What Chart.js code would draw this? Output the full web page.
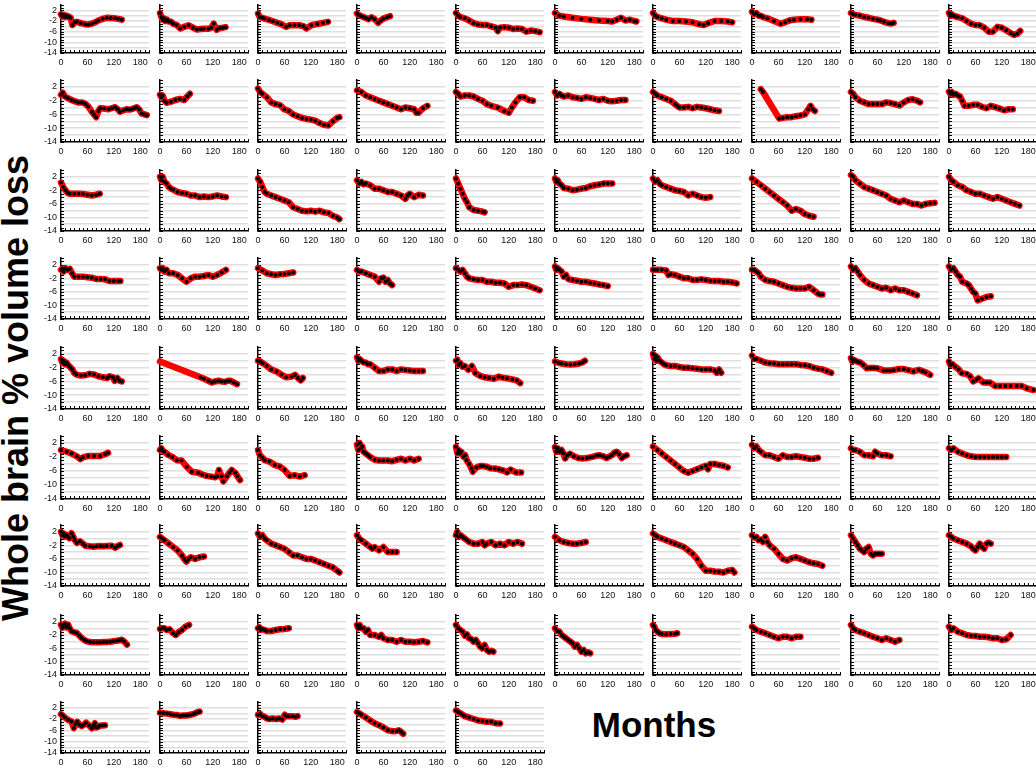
<!DOCTYPE html>
<html>
<head>
<meta charset="utf-8">
<script src="https://cdn.jsdelivr.net/npm/chart.js@4.4.1/dist/chart.umd.min.js"></script>
<style>
  html, body { margin: 0; padding: 0; background: #fff; overflow: hidden; }
  #board { position: relative; width: 1036px; height: 769px; }
  #board canvas { position: absolute; }
  .title { position: absolute; font-family: Arial, "Liberation Sans", sans-serif; font-weight: bold; color: #000; white-space: nowrap; text-align: center; }
  #ytitle { left: -234px; top: 370px; width: 500px; height: 36px; font-size: 36px; line-height: 36px; transform: rotate(-90deg); }
  #xtitle { left: 554px; top: 707px; width: 200px; font-size: 35px; line-height: 35px; }
</style>
</head>
<body>
<div id="board">
  <div class="title" id="ytitle">Whole brain % volume loss</div>
  <div class="title" id="xtitle">Months</div>
</div>
<script>
// --- data -------------------------------------------------------------
const xTickLabels = [0, 60, 120, 180];
const yTickLabels = [2, -2, -6, -10, -14];
const panelsPerRow = [10, 10, 10, 10, 10, 10, 10, 10, 5];
// panels whose first value has no scan marker (line only)
const noScanAtStart = [41];

// months of each scan, one list per subject (row by row)
const scanMonths = [
  [0,3,6,9,12,15,18,22,26,31,36,45,55,62,70,78,85,95,104,113,123,130,138],
  [0,3,6,9,12,16,20,25,30,38,46,55,65,75,84,92,99,110,117,122,129,136,143,149],
  [0,4,10,15,25,34,44,53,64,72,83,94,103,110,121,135,148,159],
  [0,5,10,15,20,26,33,40,48,54,60,68,75],
  [0,5,10,20,30,40,50,60,70,80,90,95,100,110,120,130,140,150,160,170,180,190],
  [0,10,20,40,60,80,100,120,130,140,150,160,170,180,185],
  [0,5,10,20,30,45,60,75,90,105,115,125,140,155,170,180],
  [0,5,10,15,20,25,35,50,65,75,85,95,110,125,135],
  [0,5,10,20,30,40,50,60,67,75,85,92,97],
  [0,3,6,10,15,20,30,40,50,60,70,80,90,100,110,120,130,140,148,155,162],

  [0,4,9,16,24,32,39,45,50,56,62,70,75,80,85,89,98,108,115,123,129,134,142,149,155,160,166,172,178,183,190,195],
  [0,3,6,10,15,25,35,45,55,62,68],
  [0,5,10,20,30,40,50,60,70,80,90,100,110,120,130,140,150,160,170,180,185],
  [0,10,20,30,40,50,60,70,80,90,100,110,120,130,135,140,150,160],
  [0,5,10,20,30,40,50,60,70,80,95,110,120,127,135,145,155,165,175],
  [0,5,10,15,20,30,40,50,60,70,80,90,100,110,120,130,140,150,160],
  [0,5,10,20,30,40,50,55,60,70,80,90,100,110,120,130,140,150],
  [20,25,62,70,80,90,100,110,120,128,133,138,143],
  [0,5,10,20,30,40,50,60,70,80,90,100,110,120,130,140,150,157],
  [0,3,6,10,15,20,25,30,35,45,55,65,75,85,95,105,115,125,135,145],

  [0,5,10,15,20,30,40,50,60,70,80,88],
  [0,3,6,10,15,20,25,30,40,50,60,70,80,90,100,110,120,130,140,150],
  [0,5,10,15,20,30,40,50,60,70,80,90,100,110,120,130,140,150,160,170,180,185],
  [0,5,10,15,20,30,40,50,60,70,80,90,100,110,115,120,130,140,150],
  [0,5,10,15,20,25,30,40,50,60,65],
  [0,3,6,10,15,20,30,40,50,60,70,80,90,100,110,120,130],
  [0,5,10,15,20,30,40,50,60,70,80,90,100,110,120,130],
  [0,10,20,30,40,50,60,70,80,90,100,110,120,130,140],
  [0,5,10,20,30,40,50,60,70,80,90,100,110,120,130,140,150,160,170,180,190],
  [0,5,10,20,30,40,50,60,70,80,90,100,110,120,130,140,150,160],

  [0,3,6,10,15,20,25,30,40,50,60,70,80,90,100,110,120,130,135],
  [0,3,6,10,15,20,30,40,50,60,70,80,90,100,110,120,130,140,150],
  [0,10,20,30,40,50,60,70,80],
  [0,5,10,20,30,40,50,55,60,65,70,75,80],
  [0,5,10,15,20,25,30,40,50,60,70,80,90,100,110,120,130,140,150,160,170,180,190],
  [0,3,6,10,15,20,25,30,40,50,60,70,80,90,100,110,120],
  [0,5,10,20,30,35,40,50,60,70,80,90,100,110,120,130,140,150,160,170,180,190],
  [0,5,10,15,20,30,40,50,60,70,80,90,100,110,120,130,140,150,155,160],
  [0,5,10,15,20,30,40,50,60,70,80,90,100,110,120,130,140,150],
  [0,5,10,15,20,25,30,40,45,50,55,60,65,75,85,95],

  [0,3,6,9,12,15,18,22,26,30,35,45,55,65,75,85,95,105,110,118,122,128,133,138],
  [0,92,100,110,118,125,133,140,148,155,160,168,175],
  [0,5,11,20,30,42,53,64,76,84,91,97,102],
  [0,3,6,10,15,20,25,30,40,50,60,70,80,90,100,110,120,130,140,150],
  [0,3,6,10,15,20,28,36,44,55,65,75,86,97,106,116,128,138,146],
  [0,8,15,25,35,45,55,62,68],
  [0,3,5,8,10,15,20,25,30,40,50,60,70,80,90,100,110,120,130,140,145,150,155],
  [0,5,10,20,30,40,50,60,70,80,90,100,110,120,130,140,150,160,170,180],
  [0,3,6,10,15,21,28,36,44,52,60,74,82,89,97,108,120,130,142,154,162,169,180],
  [0,3,8,14,22,29,40,48,55,62,67,78,86,93,105,116,128,140,154,165,177,192],

  [0,13,24,36,44,50,62,75,89,100,107],
  [0,3,6,10,19,28,38,49,61,72,87,96,106,116,125,130,134,140,144,152,158,163,171,176,182],
  [0,4,10,15,26,38,49,60,72,83,95,106],
  [0,3,6,9,12,15,20,25,30,40,50,60,70,80,90,100,110,120,130,140],
  [0,3,6,9,12,17,21,24,30,35,38,46,55,62,70,78,88,97,106,116,124,136,148],
  [0,3,6,10,15,19,23,28,34,43,53,62,72,80,87,95,102,110,117,123,129,135,140,146,152,157,163],
  [0,10,20,30,40,50,60,70,80,90,100,110,120,125,130,140,150,160,170],
  [0,5,10,15,20,30,40,50,60,70,80,90,100,110,120,130,140,150],
  [0,5,10,20,30,40,50,55,60,70,80,90],
  [0,5,10,20,30,40,50,60,70,80,90,100,110,120,130],

  [0,3,6,9,13,16,19,24,28,31,36,43,50,55,66,73,81,89,96,104,115,123,129,134],
  [0,5,10,20,30,40,50,55,60,65,70,80,90,100],
  [0,5,10,15,20,30,40,50,60,70,80,90,100,110,120,130,140,150,160,170,180,185],
  [0,5,10,20,30,35,40,50,60,70,80,90],
  [0,3,6,10,15,20,25,30,40,50,60,65,70,80,90,100,110,120,130,140,150],
  [0,10,20,30,40,50,60,70],
  [0,5,10,20,30,40,50,60,70,80,90,100,110,120,130,140,150,160,170,180,185],
  [0,5,10,15,20,25,30,35,40,50,60,70,80,90,100,110,120,130,140,150,160],
  [0,5,10,15,20,25,30,35,40,45,50,55,60,65,70],
  [0,5,10,20,30,40,50,55,60,65,70,75,80,85,90,95],

  [0,3,6,9,12,16,20,24,30,36,42,47,53,59,66,74,82,89,97,104,112,119,127,133,138,144,150],
  [0,5,10,15,22,30,36,42,50,58,66],
  [0,3,6,10,15,20,30,40,50,60,70],
  [0,3,6,10,15,20,25,30,40,50,55,60,70,80,90,100,110,120,130,140,150,160],
  [0,5,10,15,20,25,30,35,40,45,50,55,60,65,70,75,80,85],
  [0,5,10,15,20,25,30,35,40,45,50,55,60,65,70,75,80],
  [0,3,6,10,15,20,30,40,50,55],
  [0,5,10,20,30,40,50,60,70,80,90,100,110],
  [0,5,10,20,30,40,50,60,70,80,90,100,110],
  [0,5,10,20,30,40,50,60,70,80,90,100,110,120,130,140],

  [0,4,9,16,24,29,33,37,42,47,52,57,64,70,74,77,80,84,88,94,100],
  [0,8,16,24,31,38,46,52,57,63,69,75,80,85,90],
  [0,5,10,15,20,26,33,41,48,55,61,65,70,78,85,90],
  [0,5,10,20,30,40,50,60,70,80,90,95,100,105],
  [0,5,10,15,20,30,40,50,60,70,80,90,100]
];

// whole brain % volume change at each scan
const volumeLoss = [
  [0.5,-0.3,0.3,-0.5,0,-0.5,-0.3,-0.8,-3.5,-2.5,-2.3,-2.8,-3.2,-3.3,-3,-2.5,-1.8,-1.2,-0.8,-0.9,-1,-1.2,-1.5],
  [1,-0.5,-1.5,-1,-2,-1.5,-2.2,-2.3,-3,-3.5,-4.8,-4.2,-3.6,-4.5,-5.2,-5,-4.9,-4.9,-4.5,-3,-5.3,-4.6,-4.5,-4.3],
  [0.8,-0.5,-0.8,-1.1,-1.6,-2.1,-2.7,-3.2,-4.2,-3.6,-3.6,-3.6,-3.9,-4.8,-3.6,-3.1,-2.7,-2.3],
  [0.8,0.2,-0.2,-0.5,-0.9,-1.3,-0.6,-1.3,-2.7,-1.8,-1.1,-0.6,-0.2],
  [1,0,-0.5,-1,-1.8,-2.8,-3.3,-3.5,-3.5,-4,-4.5,-5.8,-4.5,-4.3,-4.5,-5,-4.8,-5,-6,-5.6,-5.8,-6.2],
  [1,0,-0.3,-0.8,-1.2,-1.5,-1.8,-2,-2.2,-1.5,-0.8,-1.8,-1.5,-2,-2.2],
  [1,0,-0.5,-1,-1.5,-2,-2,-2.2,-2.5,-3.2,-3.5,-2.8,-2,-2,-2.2,-2.5],
  [1.5,0.5,1,0,0,-0.5,-1,-2,-3,-2.5,-1.8,-1.5,-1.3,-1.3,-1.5],
  [1,0.5,0.3,0,-0.5,-0.8,-1.2,-1.5,-1.8,-2.3,-2.8,-2.9,-2.7],
  [1,0,0.5,0,-0.3,-0.5,-1,-2,-3,-3.5,-3.6,-4.5,-6,-6,-4.2,-4.5,-5.5,-6.5,-7.2,-6.8,-5.7],

  [-0.3,0.3,-0.8,-1.3,-1.8,-2.2,-2.5,-2.5,-2.6,-3,-3.7,-5.2,-6,-6.8,-5,-4.2,-4.3,-4.5,-4.2,-3.9,-4.5,-5.2,-4.8,-4.5,-4.6,-4.5,-4.2,-3.9,-4.6,-5.7,-6,-6.2],
  [-0.3,-1,-0.5,-2,-2.6,-2.3,-1.8,-1.5,-1.8,-0.8,0],
  [1.5,0.5,0,-1,-2.5,-3,-3.3,-4.5,-5,-6,-6.5,-7,-7.3,-7.5,-7.8,-8.5,-9,-9.2,-8,-7,-6.8],
  [1,0.5,-0.5,-1,-1.5,-2,-2.5,-3,-3.5,-4,-4.5,-4,-4.2,-4.5,-5.5,-5.5,-4.2,-3.5],
  [0.5,0,-0.8,-0.5,-0.5,-0.8,-1.5,-2,-3,-3.5,-4,-5,-5.5,-4,-2.5,-1,-1,-1.8,-2],
  [0.5,-0.5,0,-0.5,-0.8,-0.5,-1,-1.2,-1.5,-1,-1.2,-1.5,-1.8,-1.5,-2,-2.2,-2,-1.8,-1.8],
  [0.5,0,-0.5,-1,-1.5,-2,-3,-3.5,-4,-4,-3.8,-4.2,-3.8,-4,-4.2,-4.5,-4.8,-5],
  [1.3,0.5,-7.2,-7,-6.8,-6.8,-6.5,-6.3,-6,-4.5,-3.5,-4.5,-5],
  [0.5,0,-1,-2,-2.5,-3,-3,-3,-3,-2.5,-2.7,-3,-3.4,-2.5,-1.8,-1.6,-2,-2.5],
  [0.6,0,0.5,-0.3,0,-0.5,-0.8,-2,-3.5,-3.5,-3.2,-3.2,-3.8,-4.2,-3.5,-3.9,-4.3,-4.8,-4.5,-4.5],

  [0.3,-1,-2,-2.7,-3,-3,-3,-3.1,-3.3,-3.5,-3.3,-3],
  [2,1,2,0.5,0,-1,-1.5,-1.8,-2.5,-2.8,-3,-3.5,-3.5,-4,-3.8,-4,-3.8,-3.5,-3.8,-4],
  [1.5,0.5,-1,-2.5,-3,-3.5,-4,-4.5,-5,-5.5,-7,-7.5,-8,-8.2,-8,-8.3,-8,-8.5,-8.7,-9.5,-10,-10.5],
  [1,0,0.5,-0.2,0,-0.5,-1.5,-1.5,-2,-2.5,-2.5,-3,-3.5,-4.5,-3.5,-3,-4,-3.3,-3.5],
  [1.5,0,-1.5,-3,-4.5,-5.5,-7,-7.8,-8,-8.3,-8.5],
  [1.5,0.5,1,0,-0.5,-1.3,-1.5,-2,-1.8,-1.5,-1.3,-0.8,-0.5,-0.3,0,0,0],
  [1.5,0.5,1,0,-0.5,-1,-1.5,-2,-2.2,-2.5,-3.5,-3,-3.5,-4,-4.2,-4],
  [1.5,0.5,-0.5,-1.5,-2.5,-3.5,-4.5,-5.5,-6.5,-8,-7.5,-8,-9,-9.5,-9.8],
  [2.5,2,1,0,-1,-1.5,-2,-2.5,-3,-3.5,-4.5,-5,-5.5,-5,-5.5,-6,-6,-6.5,-6,-5.8,-5.7],
  [2,1,0.5,-0.5,-1,-2,-2.5,-3,-3,-3.5,-4,-4.5,-4,-4.5,-5,-5.5,-6,-6.5],

  [0.5,0.8,0,1,0.5,0.8,-0.5,-1.5,-1.5,-1.5,-1.7,-1.8,-2.2,-2.2,-2.3,-2.8,-2.8,-2.8,-2.8],
  [1,0.5,1,0,0.5,-0.5,-0.5,-1,-2,-3,-2,-1.5,-1.5,-1.3,-1,-1.5,-1,-0.3,0.5],
  [1,0.3,-0.5,-0.8,-1,-0.8,-0.7,-0.5,-0.3],
  [0.5,0,0,-0.5,-1,-1.5,-3,-2,-1.8,-3,-2.5,-3.5,-4],
  [1,0.5,0,0.5,-0.5,-1.5,-2,-2.3,-2.5,-2.5,-3,-3,-3.3,-3.3,-3.5,-4.5,-4,-4,-3.8,-4,-4.5,-5,-5.5],
  [1.5,0.5,1,0.5,0,-1.5,-1,-2.2,-2.5,-2.7,-3,-3,-3.3,-3.5,-3.8,-4,-4.3],
  [0.5,0.5,0.5,0.5,0.3,-1,-0.8,-1,-1.5,-2,-2,-2.5,-2.5,-2.3,-2.5,-2.7,-2.8,-2.8,-3,-3,-3.2,-3.5],
  [0.5,0.5,0,-0.5,-1.5,-2.5,-2.8,-3,-3.5,-4,-4.5,-4.8,-5,-5,-5,-4.5,-5.5,-6.5,-6.8,-6.8],
  [1.5,0.5,1,0,-1,-2.5,-3.5,-4,-4.5,-5,-4.8,-5.5,-5,-5.5,-5.5,-6,-6.5,-7],
  [1.5,0.5,1,0,-1,-1.5,-3,-3.5,-4,-5,-6,-6.5,-8.5,-8,-7.5,-7.3],

  [0.5,-0.5,0,-1,-0.5,-1,-1.5,-2,-2.5,-3.5,-4,-4.3,-4.2,-3.8,-4,-4.5,-4.8,-5,-4.5,-4.8,-5.8,-5,-5.8,-6],
  [-0.2,-4.8,-5.2,-5.8,-6.3,-6,-5.8,-6,-6.1,-5.8,-5.8,-6.3,-6.8],
  [0,-0.2,-0.7,-1.5,-2.5,-3.1,-4,-4.8,-4.6,-4.1,-5,-5.7,-5],
  [1,0,0.5,0,-0.5,-0.5,-1,-1,-2,-3,-3,-2.5,-2.5,-3,-2.5,-2.7,-2.8,-3,-3,-3],
  [0,0.3,-1.2,-0.7,-1.7,-1.5,-2.6,-1.5,-3.6,-4.4,-4.8,-5,-5.2,-4.6,-4.9,-5.1,-5.4,-5.7,-6.5],
  [-0.2,-0.6,-0.8,-1,-1.1,-1,-0.8,-0.5,0],
  [2,0.5,1.5,0,1,0,-0.5,-1,-1.3,-1.5,-1.5,-1.8,-2,-2,-2.2,-2.3,-2.5,-2.5,-2.5,-2.8,-3.5,-2.5,-3.5],
  [1.5,0.5,0.5,0,-0.5,-0.7,-0.8,-1,-1,-1,-1,-1,-1.2,-1.3,-1.5,-2,-2.3,-2.5,-3,-3.5],
  [0.8,-0.2,0.3,0,-0.3,-0.5,-1.2,-2.2,-2.1,-2.1,-2.2,-2.8,-2.8,-2.8,-2.7,-2.4,-2.4,-2.7,-3.1,-2.6,-3,-3.3,-4.1],
  [-0.2,-1.2,-1,-1.7,-2.5,-3.6,-3.8,-4.5,-6,-5.5,-5.1,-6.3,-6.3,-6.3,-7.3,-7.3,-7.3,-7.3,-7.3,-7.3,-8,-8.5],

  [0,-0.5,-1,-1.8,-2.6,-2.1,-1.7,-1.7,-1.7,-1.2,-0.8],
  [0,0.5,-0.2,-0.5,-1.4,-2,-2.9,-3,-4.8,-6.2,-6.5,-7,-7.4,-7.6,-7.8,-7.5,-5.7,-7.5,-9,-7.5,-6.5,-5.7,-6.5,-7.5,-8.6],
  [0,-1.4,-2.2,-2.9,-3.3,-4.3,-4.7,-5.7,-7.4,-7.2,-7.6,-7.2],
  [1.5,0,2,0.5,1,-0.5,-1,-1.5,-2,-2.8,-3,-3,-3,-3.2,-2.8,-2.5,-3,-2.5,-3,-2.5],
  [0.9,-0.9,0,-1,-0.5,-1.9,-1.5,-2.9,-4,-5.2,-6.2,-5,-4.6,-4.6,-4.8,-5.2,-5.3,-5.5,-5.8,-6.4,-5.6,-6.4,-6.4],
  [0.8,-0.5,0.5,-0.5,0,-0.9,-2.4,-1.5,-1.1,-1.8,-2.3,-2.4,-2.3,-2.1,-1.9,-1.6,-1.5,-1.8,-2.3,-1.9,-1.5,-0.8,-0.5,-1.2,-2.3,-1.8,-1.5],
  [1,0,-1,-2,-3,-4,-5,-6,-6.5,-6,-5.5,-5,-4.5,-5.5,-4,-4,-4.3,-4.5,-5],
  [1.5,0.5,1,0,-0.5,-1.5,-1.5,-2,-2.5,-1.5,-2,-2,-1.8,-2,-2.2,-2.5,-2.5,-2.2],
  [0.5,0,0,-0.5,-1.5,-1.5,-1.8,-0.5,-1,-1.5,-1.5,-1.8],
  [0.5,0,0.5,-0.5,-1,-1.5,-1.8,-2,-2,-2,-2,-2,-2,-2,-2],

  [2,1,1.5,0.6,1,0.5,0.1,1.6,0.5,-0.4,-1.3,-0.8,-1.5,-2.1,-2.3,-2.4,-2.3,-2.2,-2.3,-2.2,-2.1,-2.7,-2.2,-1.9],
  [0.5,0,-0.5,-1.5,-2.5,-3.5,-5,-6,-6.8,-6,-5.5,-6,-5.5,-5.3],
  [1.5,0.5,1,0,-0.5,-1.5,-2,-2.5,-3,-4,-5,-5,-5.5,-6,-6,-6.5,-7,-7.5,-8,-8.5,-9.5,-10],
  [1,0,-0.5,-1.5,-2.5,-3,-2.5,-3.5,-2.5,-4,-4,-4],
  [1,2,0.5,1,0.5,0,-0.5,-1,-1.5,-1.5,-1,-2,-1.5,-1,-2,-1.5,-2,-1,-1.5,-1,-1.5],
  [0.5,-0.5,-1,-1.3,-1.5,-1.5,-1.3,-1],
  [1.5,1,0.5,0,-0.5,-1,-1.5,-2,-2.5,-3.5,-4.5,-6,-8,-9.5,-9.5,-9.7,-9.8,-10,-9.5,-9.3,-10],
  [1,0.3,0.5,-0.5,-0.3,-1,0.5,-1,-2,-3,-4.5,-6,-6.5,-5.8,-5.5,-6,-6.5,-7,-7.3,-7.5,-8],
  [1,0,-1,-2,-3,-3.5,-4,-3,-2.5,-4.5,-5,-4.5,-4.5,-4.5,-4.5],
  [1,0.5,0,-0.5,-1,-1.5,-2.3,-3,-3.5,-2.5,-1.5,-2.5,-3,-1.5,-1.2,-1.5],

  [1.1,0.2,1,1.4,0.3,1.1,0,-0.9,-1.2,-1.4,-2.2,-2.9,-3.5,-3.9,-4.1,-4.2,-4.2,-4.2,-4.1,-4.1,-4,-3.9,-3.7,-3.6,-3.4,-4,-4.9],
  [-0.2,0,0,-0.5,-0.3,-1.5,-2,-1.2,-0.5,0.5,1],
  [0,0.3,-0.5,-0.3,-0.5,-0.8,-0.8,-0.5,-0.3,-0.2,0],
  [1,0,1,0,0,-1,-0.5,-2,-2,-2.5,-2,-3,-3.5,-3.5,-4,-3.5,-4,-4,-4.2,-4,-3.8,-4.2],
  [1,0,-0.5,-1,-2.2,-1.8,-3,-3.3,-4,-3.5,-4.5,-5.5,-6,-5,-6.5,-7,-6.7,-7],
  [0,-0.8,-1,-2,-2.5,-3,-3.5,-4,-4.5,-5.5,-5,-6,-7,-6.5,-7.5,-7.2,-7.5],
  [1,0.5,-0.5,-1,-1.5,-1.7,-1.8,-1.7,-1.6,-1.5],
  [0.5,0,-0.5,-1,-1.5,-2,-2.5,-3,-2.5,-2.5,-3,-2.5,-2.5],
  [1,0,-0.5,-1,-1.5,-2,-2.5,-3,-3.5,-3,-3.5,-4,-3.5],
  [0.5,-0.5,0,-1,-1.5,-2,-2.2,-2.3,-2.5,-2.5,-2.7,-3,-3,-3.5,-3.3,-2],

  [-0.3,-0.8,-1.5,-2.3,-2.9,-5.2,-3.8,-3,-4,-4.5,-4,-3.3,-4.3,-5.3,-4.3,-3.5,-5,-4.8,-4.4,-4.3,-4.2],
  [0.2,0,-0.1,-0.3,-0.5,-0.6,-0.9,-0.8,-0.8,-0.7,-0.5,-0.3,0,0.4,0.6],
  [-0.5,-0.2,-1,-1.2,-1.8,-2,-1.8,-2,-1.8,-2.2,-0.5,-1,-1,-1,-1.2,-1],
  [0.5,0,-0.5,-1.5,-2.5,-3.5,-4.2,-5,-6,-6.3,-6.2,-6,-6.5,-7.2],
  [1,0.5,0,-0.5,-1,-1.5,-2,-2.5,-2.7,-3,-3,-3.5,-3.6]
];

const rowY2 = [10, 87, 177, 265, 354, 443, 532, 622, 708];      // pixel of value 2
const rowY14 = [53, 142, 231, 319, 409, 499, 586, 675, 753];    // pixel of value -14
const firstColX = 61, colStep = 98.7, plotW = 88;
const Y_MIN = -14, Y_MAX = 4, X_MAX = 200;
const PAD_T = 6, PAD_R = 4, X_AXIS_H = 18;
const tickFont = { family: 'Arial, "Liberation Sans", sans-serif', size: 9 };

// small inward ticks along both axes
const innerTicks = {
    id: 'innerTicks',
    beforeDatasetsDraw(chart) {
        const { ctx, chartArea, scales: { x, y } } = chart;
        ctx.save();
        ctx.strokeStyle = '#000';
        ctx.lineWidth = 1;
        ctx.beginPath();
        for (let m = 0; m <= X_MAX; m += 10) {
            const px = Math.round(x.getPixelForValue(m)) + 0.5;
            ctx.moveTo(px, chartArea.bottom);
            ctx.lineTo(px, chartArea.bottom - 3);
        }
        for (let v = Y_MIN; v <= Y_MAX; v += 1) {
            const py = Math.round(y.getPixelForValue(v)) + 0.5;
            ctx.moveTo(chartArea.left, py);
            ctx.lineTo(chartArea.left + 3, py);
        }
        ctx.stroke();
        ctx.restore();
    }
};

function zeroPadding(s) {
    s.paddingTop = 0; s.paddingBottom = 0; s.paddingLeft = 0; s.paddingRight = 0;
}

function createPanel(board, idx, row, col) {
    const ppu = (rowY14[row] - rowY2[row]) / 16;
    const plotTop = rowY2[row] - (Y_MAX - 2) * ppu;
    const plotH = rowY14[row] - plotTop;
    const x0 = firstColX + col * colStep;
    const yAxisW = col === 0 ? 30 : 8;

    const canvas = document.createElement('canvas');
    const w = Math.round(yAxisW + plotW + PAD_R);
    const h = Math.round(PAD_T + plotH + X_AXIS_H);
    canvas.width = w;
    canvas.height = h;
    canvas.style.width = w + 'px';
    canvas.style.height = h + 'px';
    canvas.style.left = (x0 - yAxisW) + 'px';
    canvas.style.top = (plotTop - PAD_T) + 'px';
    board.appendChild(canvas);

    const points = scanMonths[idx].map((m, i) => ({ x: m, y: volumeLoss[idx][i] }));

    return new Chart(canvas.getContext('2d'), {
        type: 'scatter',
        data: {
            datasets: [{
                data: points,
                showLine: true,
                borderColor: '#ff0000',
                borderWidth: 6.5,
                borderJoinStyle: 'round',
                borderCapStyle: 'round',
                tension: 0,
                pointRadius: (c) => (c.dataIndex === 0 && noScanAtStart.includes(idx)) ? 0 : 2,
                pointBackgroundColor: '#000',
                pointBorderWidth: 0,
                clip: false
            }]
        },
        options: {
            responsive: false,
            animation: false,
            events: [],
            layout: { padding: { top: PAD_T, right: PAD_R, left: 0, bottom: 0 } },
            plugins: { legend: { display: false }, tooltip: { enabled: false } },
            scales: {
                x: {
                    type: 'linear',
                    min: 0,
                    max: X_MAX,
                    afterFit: (s) => { s.height = X_AXIS_H; zeroPadding(s); },
                    grid: { display: false, drawTicks: false },
                    border: { color: '#000', width: 1.5 },
                    ticks: {
                        stepSize: 60,
                        includeBounds: false,
                        autoSkip: false,
                        maxRotation: 0,
                        padding: 4.5,
                        font: tickFont,
                        color: '#111',
                        callback: (v) => xTickLabels.includes(v) ? String(v) : ''
                    }
                },
                y: {
                    min: Y_MIN,
                    max: Y_MAX,
                    afterFit: (s) => { s.width = yAxisW; zeroPadding(s); },
                    grid: {
                        drawTicks: false,
                        lineWidth: 1.5,
                        color: (c) => (c.tick && c.tick.value > Y_MIN && c.tick.value <= 2) ? '#dedede' : 'rgba(0,0,0,0)'
                    },
                    border: { color: '#000', width: 1.5 },
                    ticks: {
                        display: col === 0,
                        stepSize: 2,
                        autoSkip: false,
                        padding: 4,
                        font: tickFont,
                        color: '#111',
                        callback: (v) => yTickLabels.includes(v) ? String(v) : ''
                    }
                }
            }
        },
        plugins: [innerTicks]
    });
}

const board = document.getElementById('board');
let idx = 0;
panelsPerRow.forEach((n, row) => {
    for (let col = 0; col < n; col++) {
        createPanel(board, idx, row, col);
        idx++;
    }
});
</script>
</body>
</html>
